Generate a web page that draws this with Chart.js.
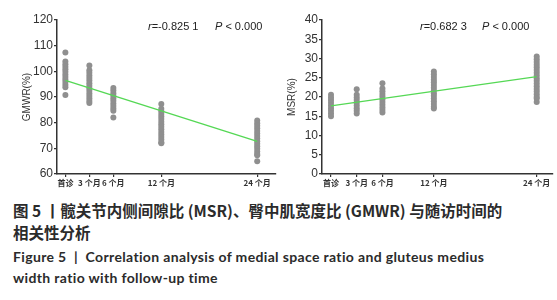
<!DOCTYPE html>
<html>
<head>
<meta charset="utf-8">
<script src="https://cdn.jsdelivr.net/npm/chart.js@4.4.1/dist/chart.umd.min.js"></script>
<style>
  body { margin: 0; background: #fff; width: 557px; height: 300px; position: relative; overflow: hidden; }
  #leftBox { position: absolute; left: 0; top: 0; width: 280px; height: 190px; }
  #rightBox { position: absolute; left: 280px; top: 0; width: 277px; height: 190px; }
  .cap { position: absolute; left: 13px; white-space: nowrap; color: #2b2b2b; font-weight: 700; }
  .zh { font-family: "Noto Sans CJK SC", sans-serif; font-size: 15.5px; }
  .en { font-family: Lato, "Liberation Sans", sans-serif; font-size: 14px; letter-spacing: 0.35px; }
</style>
</head>
<body>
<div id="leftBox"><canvas id="gmwrChart"></canvas></div>
<div id="rightBox"><canvas id="msrChart"></canvas></div>
<div class="cap zh" style="top:199px">图 5 丨髋关节内侧间隙比 (MSR)、臀中肌宽度比 (GMWR) 与随访时间的</div>
<div class="cap zh" style="top:221px">相关性分析</div>
<div class="cap en" style="top:248px">Figure 5 &nbsp;|&nbsp; Correlation analysis of medial space ratio and gluteus medius</div>
<div class="cap en" style="top:269px">width ratio with follow-up time</div>

<script>
// follow-up months and their tick labels
var months = [0, 3, 6, 12, 24];
var monthLabels = ['首诊', '3 个月', '6 个月', '12 个月', '24 个月'];

// GMWR(%) per visit
var gmwr0 = [107.3, 103.8, 102.8, 101.8, 100.8, 99.8, 98.8, 97.8, 96.8, 95.8, 94.8, 93.8, 90.8];
var gmwr3 = [102.3, 100.4, 99.4, 98.4, 97.4, 96.4, 95.4, 94.4, 93.4, 92.4, 91.4, 90.4, 89.4, 88.4, 87.7];
var gmwr6 = [93.5, 92.5, 91.5, 90.5, 89.5, 88.5, 87.5, 86.5, 85.5, 84.6, 82];
var gmwr12 = [87.3, 85.4, 84.4, 83.4, 82.4, 81.4, 80.4, 79.4, 78.4, 77.4, 76.4, 75.4, 74.4, 73.4, 72.4, 72];
var gmwr24 = [80.8, 79.8, 78.8, 77.8, 76.8, 75.8, 74.8, 73.8, 72.8, 71.8, 70.8, 69.8, 68.8, 67.8, 67.3, 65];
var gmwrFit = [96.5, 72.7];

// MSR(%) per visit
var msr0 = [20.6, 19.9, 19.2, 18.5, 17.8, 17.1, 16.4, 15.7, 15.0];
var msr3 = [22.0, 20.6, 19.9, 19.2, 18.5, 17.8, 17.1, 16.4, 15.7];
var msr6 = [23.6, 22.2, 21.5, 20.8, 20.1, 19.4, 18.7, 18.0, 17.3, 16.6, 16.0];
var msr12 = [26.6, 25.9, 25.2, 24.5, 23.8, 23.1, 22.4, 21.7, 21.0, 20.3, 19.6, 18.9, 18.2, 17.5, 17.0];
var msr24 = [30.5, 29.8, 29.1, 28.4, 27.7, 27.0, 26.3, 25.6, 24.9, 24.2, 23.5, 22.8, 22.1, 21.4, 20.7, 20.0, 19.6, 18.7];
var msrFit = [17.7, 25.3];

var fitMonths = [0, 24];

function toPoints(groups) {
    var pts = [];
    groups.forEach(function (vals, i) {
        vals.forEach(function (v) { pts.push({ x: months[i], y: v }); });
    });
    return pts;
}

// draws "r=... P < 0.000" in the corner
var statLabel = {
    id: 'statLabel',
    afterDraw: function (chart, args, opts) {
        var ctx = chart.ctx;
        var a = chart.chartArea;
        var y = a.top + 7;
        ctx.save();
        ctx.fillStyle = '#222';
        ctx.textBaseline = 'middle';
        var x = a.left + opts.rx;
        ctx.font = 'italic 11px "Liberation Sans", Arial';
        ctx.fillText('r', x, y);
        x += ctx.measureText('r').width;
        ctx.font = '11px "Liberation Sans", Arial';
        ctx.fillText(opts.r, x, y);
        x = a.left + opts.px;
        ctx.font = 'italic 11px "Liberation Sans", Arial';
        ctx.fillText('P', x, y);
        x += ctx.measureText('P').width;
        ctx.font = '11px "Liberation Sans", Arial';
        ctx.fillText(' < 0.000', x, y);
        ctx.restore();
    }
};

function makeChart(id, groups, fit, yMin, yMax, step, title, xMax, padLeft, yWidth, stat) {
    var ctx = document.getElementById(id).getContext('2d');
    var config = {
        type: 'scatter',
        data: {
            datasets: [{
                data: toPoints(groups),
                backgroundColor: '#8f8f8f',
                borderWidth: 0,
                pointRadius: 3,
                order: 2
            }, {
                type: 'line',
                data: fitMonths.map(function (m, i) { return { x: m, y: fit[i] }; }),
                borderColor: '#55d855',
                borderWidth: 1.4,
                pointRadius: 0,
                fill: false,
                order: 1
            }]
        },
        options: {
            responsive: true,
            maintainAspectRatio: false,
            animation: false,
            layout: { padding: { left: padLeft, top: 20, right: 0, bottom: 0 } },
            plugins: {
                legend: { display: false },
                tooltip: { enabled: false },
                statLabel: stat
            },
            scales: {
                x: {
                    type: 'linear',
                    min: -1.05,
                    max: xMax,
                    afterBuildTicks: function (scale) {
                        scale.ticks = months.map(function (m) { return { value: m }; });
                    },
                    afterFit: function (scale) { scale.height = 16; },
                    ticks: {
                        autoSkip: false,
                        maxRotation: 0,
                        padding: 1,
                        color: '#333',
                        font: { family: '"Noto Sans CJK SC"', size: 8, weight: 'bold' },
                        callback: function (v) { return monthLabels[months.indexOf(v)]; }
                    },
                    grid: { drawOnChartArea: false, color: '#333', tickLength: 3, lineWidth: 1.2 },
                    border: { color: '#333', width: 1.5 }
                },
                y: {
                    min: yMin,
                    max: yMax,
                    afterFit: function (scale) { scale.width = yWidth; },
                    ticks: {
                        stepSize: step,
                        padding: 1,
                        color: '#333',
                        font: { family: '"Liberation Sans", Arial', size: 12 }
                    },
                    grid: { drawOnChartArea: false, color: '#333', tickLength: 3, lineWidth: 1.2 },
                    border: { color: '#333', width: 1.5 },
                    title: {
                        display: true,
                        text: title,
                        color: '#333',
                        padding: 4,
                        font: { family: '"Liberation Sans", Arial', size: 10 }
                    }
                }
            }
        },
        plugins: [statLabel]
    };
    return new Chart(ctx, config);
}

makeChart('gmwrChart', [gmwr0, gmwr3, gmwr6, gmwr12, gmwr24], gmwrFit, 60, 120, 10, 'GMWR(%)',
    26.35, 17, 40, { r: '=-0.825 1', rx: 91, px: 158 });
makeChart('msrChart', [msr0, msr3, msr6, msr12, msr24], msrFit, 0, 40, 5, 'MSR(%)',
    25.9, 2, 40, { r: '=0.682 3', rx: 98, px: 160 });
</script>
</body>
</html>
